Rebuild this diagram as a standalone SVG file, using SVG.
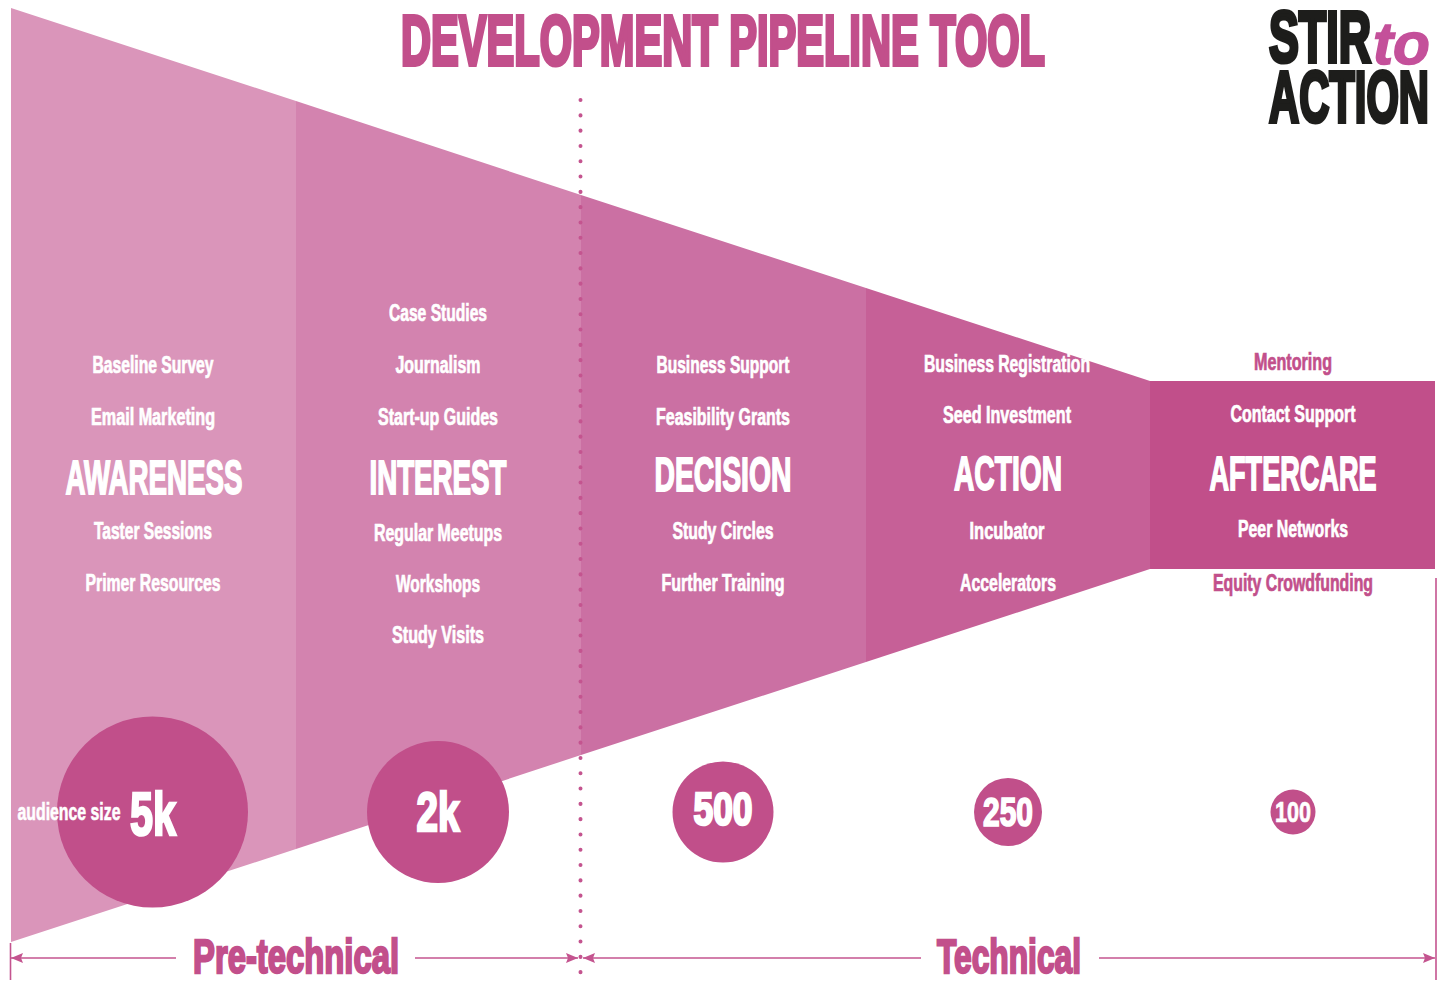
<svg xmlns="http://www.w3.org/2000/svg" width="1441" height="983" viewBox="0 0 1441 983">
<style>
text{font-family:"Liberation Sans",Arial,sans-serif;font-weight:700;text-anchor:middle;fill:#fff}
.i{font-size:23px;stroke:#fff;stroke-width:.7px}
.p{fill:#c24f8b;stroke:#c24f8b}
.h{font-size:48px;stroke:#fff;stroke-width:1.8px}
.n{stroke:#fff;stroke-width:2.600px}
.c{fill:#c14f8a}
.ln{stroke:#c4548f;stroke-width:1.6;fill:none}
.ah{fill:#c4548f}
.k{fill:#1d1d1b;stroke:#1d1d1b;stroke-width:4.200px;font-size:72px;text-anchor:start}
</style>
<defs>
<marker id="a" viewBox="0 0 12 10" refX="12" refY="5" markerWidth="12" markerHeight="10" markerUnits="userSpaceOnUse" orient="auto-start-reverse"><path class="ah" d="M0 0L12 5L0 10L2 5Z"/></marker>
</defs>
<rect width="1441" height="983" fill="#fff"/>
<g id="funnel">
<polygon points="11,8 296,101 296,849 11,942" fill="#da95ba"/>
<polygon points="296,101 581,195 581,755 296,849" fill="#d383af"/>
<polygon points="581,195 866,288 866,662 581,755" fill="#cb70a3"/>
<polygon points="866,288 1150,381 1150,569 866,662" fill="#c66097"/>
<rect x="1150" y="381" width="285" height="188" fill="#c14f8a"/>
</g>
<g id="divider"><line x1="580.500" y1="100" x2="580.500" y2="982" stroke="#c4548f" stroke-width="4" stroke-linecap="round" stroke-dasharray="0.100 15.200"/></g>
<g id="title"><text class="p" transform="translate(723 65) scale(.585 1)" font-size="71" stroke-width="4.200" textLength="1100.900" lengthAdjust="spacingAndGlyphs">DEVELOPMENT PIPELINE TOOL</text></g>
<g id="logo">
<text class="k" transform="translate(1269 62) scale(.62 1)" textLength="164.500" lengthAdjust="spacingAndGlyphs">STIR</text>
<text x="1373" y="64" font-size="60" font-style="italic" textLength="57" lengthAdjust="spacingAndGlyphs" style="text-anchor:start;fill:#c4509a;stroke:#c4509a;stroke-width:1.500px">to</text>
<text class="k" transform="translate(1269 122) scale(.58 1)" textLength="275.900" lengthAdjust="spacingAndGlyphs">ACTION</text>
</g>
<g id="awareness">
<text class="i" transform="translate(153 373) scale(.62 1)" textLength="195.200" lengthAdjust="spacingAndGlyphs">Baseline Survey</text>
<text class="i" transform="translate(153 425) scale(.62 1)" textLength="200" lengthAdjust="spacingAndGlyphs">Email Marketing</text>
<text class="h" transform="translate(154 494) scale(.57 1)" textLength="310.500" lengthAdjust="spacingAndGlyphs">AWARENESS</text>
<text class="i" transform="translate(153 539) scale(.62 1)" textLength="190.300" lengthAdjust="spacingAndGlyphs">Taster Sessions</text>
<text class="i" transform="translate(153 591) scale(.62 1)" textLength="217.700" lengthAdjust="spacingAndGlyphs">Primer Resources</text>
</g>
<g id="interest">
<text class="i" transform="translate(438 321) scale(.62 1)" textLength="158.100" lengthAdjust="spacingAndGlyphs">Case Studies</text>
<text class="i" transform="translate(438 373) scale(.62 1)" textLength="137.100" lengthAdjust="spacingAndGlyphs">Journalism</text>
<text class="i" transform="translate(438 425) scale(.62 1)" textLength="193.500" lengthAdjust="spacingAndGlyphs">Start-up Guides</text>
<text class="h" transform="translate(438 494) scale(.57 1)" textLength="240.400" lengthAdjust="spacingAndGlyphs">INTEREST</text>
<text class="i" transform="translate(438 541) scale(.62 1)" textLength="206.500" lengthAdjust="spacingAndGlyphs">Regular Meetups</text>
<text class="i" transform="translate(438 592) scale(.62 1)" textLength="135.500" lengthAdjust="spacingAndGlyphs">Workshops</text>
<text class="i" transform="translate(438 643) scale(.62 1)" textLength="148.400" lengthAdjust="spacingAndGlyphs">Study Visits</text>
</g>
<g id="decision">
<text class="i" transform="translate(723 373) scale(.62 1)" textLength="214.500" lengthAdjust="spacingAndGlyphs">Business Support</text>
<text class="i" transform="translate(723 425) scale(.62 1)" textLength="216.100" lengthAdjust="spacingAndGlyphs">Feasibility Grants</text>
<text class="h" transform="translate(723 491) scale(.57 1)" textLength="240.400" lengthAdjust="spacingAndGlyphs">DECISION</text>
<text class="i" transform="translate(723 539) scale(.62 1)" textLength="162.900" lengthAdjust="spacingAndGlyphs">Study Circles</text>
<text class="i" transform="translate(723 591) scale(.62 1)" textLength="198.400" lengthAdjust="spacingAndGlyphs">Further Training</text>
</g>
<g id="action">
<text class="i" transform="translate(1007 372) scale(.62 1)" textLength="267.700" lengthAdjust="spacingAndGlyphs">Business Registration</text>
<text class="i" transform="translate(1007 423) scale(.62 1)" textLength="206.500" lengthAdjust="spacingAndGlyphs">Seed Investment</text>
<text class="h" transform="translate(1008 490) scale(.57 1)" textLength="189.500" lengthAdjust="spacingAndGlyphs">ACTION</text>
<text class="i" transform="translate(1007 539) scale(.62 1)" textLength="121" lengthAdjust="spacingAndGlyphs">Incubator</text>
<text class="i" transform="translate(1008 591) scale(.62 1)" textLength="154.800" lengthAdjust="spacingAndGlyphs">Accelerators</text>
</g>
<g id="aftercare">
<text class="i p" style="stroke-width:.7px" transform="translate(1293 370) scale(.62 1)" textLength="125.800" lengthAdjust="spacingAndGlyphs">Mentoring</text>
<text class="i" transform="translate(1293 422) scale(.62 1)" textLength="201.600" lengthAdjust="spacingAndGlyphs">Contact Support</text>
<text class="h" transform="translate(1293 490) scale(.57 1)" textLength="293" lengthAdjust="spacingAndGlyphs">AFTERCARE</text>
<text class="i" transform="translate(1293 537) scale(.62 1)" textLength="177.400" lengthAdjust="spacingAndGlyphs">Peer Networks</text>
<text class="i p" style="stroke-width:.7px" transform="translate(1293 591) scale(.62 1)" textLength="258.100" lengthAdjust="spacingAndGlyphs">Equity Crowdfunding</text>
</g>
<g id="audience-5k">
<circle class="c" cx="152.500" cy="812" r="95.500"/>
<text transform="translate(69 820) scale(.62 1)" font-size="23" textLength="166.100" lengthAdjust="spacingAndGlyphs" style="stroke:#fff;stroke-width:.6px">audience size</text>
<text class="n" transform="translate(153 835) scale(.67 1)" font-size="62" textLength="68.700" lengthAdjust="spacingAndGlyphs">5k</text>
</g>
<g id="audience-2k">
<circle class="c" cx="438" cy="812" r="71"/>
<text class="n" transform="translate(438 831) scale(.69 1)" font-size="56" textLength="62.300" lengthAdjust="spacingAndGlyphs">2k</text>
</g>
<g id="audience-500">
<circle class="c" cx="723" cy="812" r="50.500"/>
<text class="n" transform="translate(723 825) scale(.75 1)" font-size="47" textLength="78.700" lengthAdjust="spacingAndGlyphs">500</text>
</g>
<g id="audience-250">
<circle class="c" cx="1008" cy="812" r="34"/>
<text class="n" style="stroke-width:1.700px" transform="translate(1008 826) scale(.75 1)" font-size="40" textLength="66.700" lengthAdjust="spacingAndGlyphs">250</text>
</g>
<g id="audience-100">
<circle class="c" cx="1293" cy="812" r="22.500"/>
<text transform="translate(1293 822) scale(.75 1)" font-size="29" textLength="48" lengthAdjust="spacingAndGlyphs" style="stroke:#fff;stroke-width:.7px">100</text>
</g>
<g id="connectors">
<line class="ln" x1="11" y1="958" x2="176" y2="958" marker-start="url(#a)"/>
<line class="ln" x1="415" y1="958" x2="578" y2="958" marker-end="url(#a)"/>
<line class="ln" x1="583" y1="958" x2="921" y2="958" marker-start="url(#a)"/>
<line class="ln" x1="1099" y1="958" x2="1435" y2="958" marker-end="url(#a)"/>
<line class="ln" x1="10.500" y1="943" x2="10.500" y2="980"/>
<line class="ln" x1="1436" y1="578" x2="1436" y2="980"/>
</g>
<g id="phases">
<text class="p" transform="translate(296 973) scale(.68 1)" font-size="48" stroke-width="2.400" textLength="302.900" lengthAdjust="spacingAndGlyphs">Pre-technical</text>
<text class="p" transform="translate(1009 973) scale(.65 1)" font-size="48" stroke-width="2.400" textLength="221.500" lengthAdjust="spacingAndGlyphs">Technical</text>
</g>
</svg>
